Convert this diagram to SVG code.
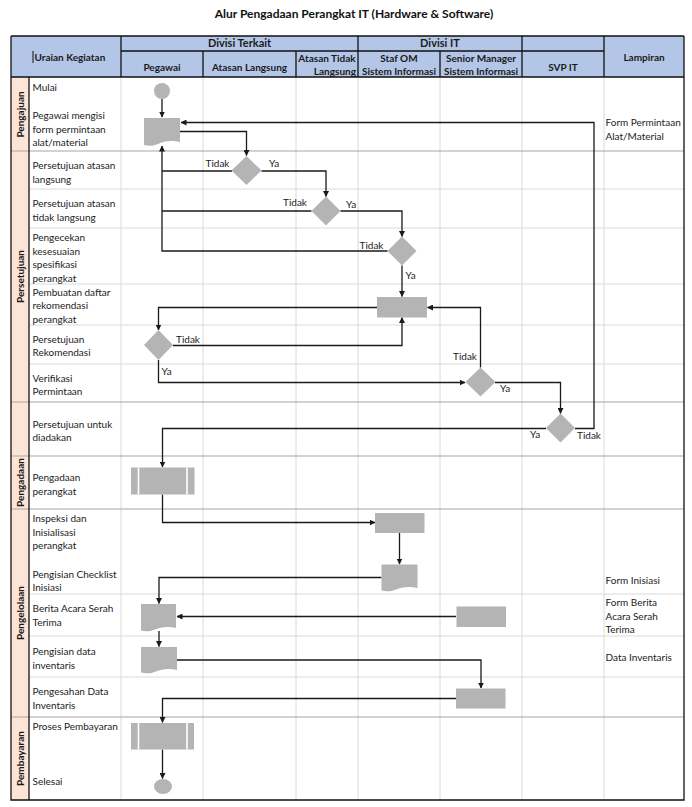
<svg xmlns="http://www.w3.org/2000/svg" width="692" height="807" viewBox="0 0 692 807">
<style>
text{font-family:Lato,"Liberation Sans",sans-serif;fill:#222}
.t{font-size:10px}
.h{font-size:10px;font-weight:bold;text-anchor:middle;fill:#1a1a1a}
.h1{font-size:11px;font-weight:bold;text-anchor:middle;fill:#1a1a1a}
.ph{font-size:10px;font-weight:bold;text-anchor:middle;fill:#1a1a1a}
.lb{font-size:10px}
.g{stroke:#dadada;stroke-width:1;fill:none}
.pb{stroke:#a6a6a6;stroke-width:1.2;fill:none}
.bk{stroke:#111;stroke-width:1.3;fill:none}
.shape{fill:#b4b4b4}
.c{fill:none;stroke:#1a1a1a;stroke-width:1.3;marker-end:url(#ah)}
.cn{fill:none;stroke:#1a1a1a;stroke-width:1.3}
</style>
<defs>
<marker id="ah" markerWidth="6" markerHeight="6" refX="5.5" refY="3" orient="auto" markerUnits="userSpaceOnUse">
<path d="M0,0 L6,3 L0,6 z" fill="#1a1a1a"/>
</marker>
</defs>
<rect width="692" height="807" fill="#fff"/>
<text x="354" y="18" style="font-size:12px;font-weight:bold;text-anchor:middle;fill:#111">Alur Pengadaan Perangkat IT (Hardware &amp; Software)</text>

<g id="table">
<rect x="11" y="36" width="673" height="41" fill="#b4c6e7"/>
<rect x="11" y="77" width="18" height="723" fill="#fce4d6"/>
<path class="g" d="M121,77V800M203,77V800M296,77V800M358,77V800M440,77V800M522,77V800M604,77V800"/>
<path class="g" d="M29,189H684M29,228H684M29,284H684M29,325H684M29,364H684M29,594H684M29,636H684M29,677H684"/>
<path class="pb" d="M11,151H684M11,402H684M11,456H684M11,509H684M11,717H684"/>
<path class="bk" d="M11,36H684M121,51H604M11,77H684M121,36V77M358,36V77M522,36V77M604,36V77M203,51V77M296,51V77M440,51V77"/>
<path class="bk" d="M11,36V800H684V36M29,77V800"/>
<line x1="33" y1="51" x2="33" y2="63" stroke="#111" stroke-width="1"/>
<text class="h" x="34.5" y="61" style="text-anchor:start">Uraian Kegiatan</text>
<text class="h1" x="239.5" y="47">Divisi Terkait</text>
<text class="h1" x="440" y="47">Divisi IT</text>
<text class="h" x="162" y="71">Pegawai</text>
<text class="h" x="249.5" y="71">Atasan Langsung</text>
<text class="h" x="327" y="62">Atasan Tidak</text>
<text class="h" x="356" y="75" style="text-anchor:end">Langsung</text>
<text class="h" x="399" y="62">Staf OM</text>
<text class="h" x="399" y="75">Sistem Informasi</text>
<text class="h" x="481" y="62">Senior Manager</text>
<text class="h" x="481" y="75">Sistem Informasi</text>
<text class="h" x="563" y="71">SVP IT</text>
<text class="h" x="644" y="61">Lampiran</text>
<text class="ph" transform="translate(24,114.5) rotate(-90)">Pengajuan</text>
<text class="ph" transform="translate(24,276.5) rotate(-90)">Persetujuan</text>
<text class="ph" transform="translate(24,482.5) rotate(-90)">Pengadaan</text>
<text class="ph" transform="translate(24,613) rotate(-90)">Pengelolaan</text>
<text class="ph" transform="translate(24,758.5) rotate(-90)">Pembayaran</text>
<g class="t">
<text class="t" x="32.5" y="91">Mulai</text>
<text class="t" x="32.5" y="119">Pegawai mengisi</text>
<text class="t" x="32.5" y="132.5">form permintaan</text>
<text class="t" x="32.5" y="146">alat/material</text>
<text class="t" x="32.5" y="168.5">Persetujuan atasan</text>
<text class="t" x="32.5" y="182.5">langsung</text>
<text class="t" x="32.5" y="207">Persetujuan atasan</text>
<text class="t" x="32.5" y="220.5">tidak langsung</text>
<text class="t" x="32.5" y="241">Pengecekan</text>
<text class="t" x="32.5" y="254.5">kesesuaian</text>
<text class="t" x="32.5" y="268">spesifikasi</text>
<text class="t" x="32.5" y="281.5">perangkat</text>
<text class="t" x="32.5" y="295.5">Pembuatan daftar</text>
<text class="t" x="32.5" y="309">rekomendasi</text>
<text class="t" x="32.5" y="322.5">perangkat</text>
<text class="t" x="32.5" y="342.5">Persetujuan</text>
<text class="t" x="32.5" y="356">Rekomendasi</text>
<text class="t" x="32.5" y="381.5">Verifikasi</text>
<text class="t" x="32.5" y="395">Permintaan</text>
<text class="t" x="32.5" y="427.5">Persetujuan untuk</text>
<text class="t" x="32.5" y="441">diadakan</text>
<text class="t" x="32.5" y="480.5">Pengadaan</text>
<text class="t" x="32.5" y="494.5">perangkat</text>
<text class="t" x="32.5" y="522">Inspeksi dan</text>
<text class="t" x="32.5" y="535.5">Inisialisasi</text>
<text class="t" x="32.5" y="549">perangkat</text>
<text class="t" x="32.5" y="577.5">Pengisian Checklist</text>
<text class="t" x="32.5" y="591">Inisiasi</text>
<text class="t" x="32.5" y="612">Berita Acara Serah</text>
<text class="t" x="32.5" y="625.5">Terima</text>
<text class="t" x="32.5" y="655">Pengisian data</text>
<text class="t" x="32.5" y="668.5">inventaris</text>
<text class="t" x="32.5" y="695">Pengesahan Data</text>
<text class="t" x="32.5" y="709">Inventaris</text>
<text class="t" x="32.5" y="729.5">Proses Pembayaran</text>
<text class="t" x="32.5" y="785">Selesai</text>
<text class="t" x="605.5" y="126">Form Permintaan</text>
<text class="t" x="605.5" y="140">Alat/Material</text>
<text class="t" x="605.5" y="584">Form Inisiasi</text>
<text class="t" x="605.5" y="606">Form Berita</text>
<text class="t" x="605.5" y="619.5">Acara Serah</text>
<text class="t" x="605.5" y="633">Terima</text>
<text class="t" x="605.5" y="661">Data Inventaris</text>
</g>
</g>

<g id="connectors">
<path class="c" d="M162,99V117"/>
<path class="c" d="M575,428.5H594V122.5H181"/>
<path class="c" d="M180,131.5H246.5V155.5"/>
<path class="cn" d="M232,171H162M311.5,211H162"/>
<path class="c" d="M387.5,251H162V146"/>
<path class="c" d="M261.5,171H326V196.5"/>
<path class="c" d="M340.5,211H402V236.5"/>
<path class="c" d="M402,265.5V296.5"/>
<path class="c" d="M377,307.5H158.5V330"/>
<path class="c" d="M173,345.5H402V317.5"/>
<path class="c" d="M158.5,360V382.5H465"/>
<path class="c" d="M480.5,367.5V307.5H427.5"/>
<path class="c" d="M495,382.5H560.5V413.5"/>
<path class="c" d="M546,428.5H162.5V467"/>
<path class="c" d="M162.5,494.5V522.5H375"/>
<path class="c" d="M399.5,533V564"/>
<path class="c" d="M381.5,577.5H159V603.5"/>
<path class="c" d="M456,616.5H177"/>
<path class="c" d="M159,631V646.5"/>
<path class="c" d="M177,660H481V688"/>
<path class="c" d="M456,698.5H162.5V722.5"/>
<path class="c" d="M162.5,749.5V778.5"/>
<text class="lb" x="205.5" y="166.5">Tidak</text>
<text class="lb" x="269" y="166.5">Ya</text>
<text class="lb" x="283" y="206">Tidak</text>
<text class="lb" x="346" y="208">Ya</text>
<text class="lb" x="359.5" y="249">Tidak</text>
<text class="lb" x="405.5" y="278.5">Ya</text>
<text class="lb" x="176" y="342.5">Tidak</text>
<text class="lb" x="161.5" y="375">Ya</text>
<text class="lb" x="453" y="359.5">Tidak</text>
<text class="lb" x="500" y="392">Ya</text>
<text class="lb" x="530" y="438">Ya</text>
<text class="lb" x="577" y="439">Tidak</text>
</g>

<g id="start"><circle class="shape" cx="162" cy="91" r="8"/></g>
<g id="form-permintaan"><path class="shape" d="M144,118H180V142C170,140 164,141 158,144C152,146.5 148,146 144,145Z"/></g>
<g id="d-atasan-langsung"><path class="shape" d="M246.5,156L261.5,170.5L246.5,185L231.5,170.5Z"/></g>
<g id="d-atasan-tidak-langsung"><path class="shape" d="M326,196.5L340.5,211L326,225.5L311.5,211Z"/></g>
<g id="d-pengecekan"><path class="shape" d="M402,236.5L416.5,251L402,265.5L387.5,251Z"/></g>
<g id="p-rekomendasi"><rect class="shape" x="377" y="297" width="50" height="20.5"/></g>
<g id="d-persetujuan-rekomendasi"><path class="shape" d="M158.5,330L173,345L158.5,360L144,345Z"/></g>
<g id="d-verifikasi"><path class="shape" d="M480.5,367.5L495.5,382L480.5,396.5L465.5,382Z"/></g>
<g id="d-svp"><path class="shape" d="M560.5,413.5L575,428L560.5,442.5L546,428Z"/></g>
<g id="pp-pengadaan"><rect class="shape" x="131" y="467.5" width="63.5" height="27"/><path d="M138.5,467.5V494.5M187,467.5V494.5" stroke="#fff" stroke-width="1.6"/></g>
<g id="p-inspeksi"><rect class="shape" x="375" y="513" width="49.5" height="20"/></g>
<g id="doc-checklist"><path class="shape" d="M381.5,564.5H417.5V588C408,586 402,587 396,589.5C390,592 386,591.5 381.5,590.5Z"/></g>
<g id="doc-berita"><path class="shape" d="M141,604H176V628C167,626 161,627 155,629.5C149,632 145,631.5 141,630.5Z"/></g>
<g id="p-serah"><rect class="shape" x="456.5" y="606.5" width="49.5" height="20.5"/></g>
<g id="doc-inventaris"><path class="shape" d="M141,647H177V670C168,668 162,669 156,671.5C150,674 146,673.5 141,672.5Z"/></g>
<g id="p-pengesahan"><rect class="shape" x="456" y="688.5" width="49.5" height="20"/></g>
<g id="pp-pembayaran"><rect class="shape" x="131" y="723" width="63" height="26.5"/><path d="M138.5,723V749.5M187,723V749.5" stroke="#fff" stroke-width="1.6"/></g>
<g id="end"><ellipse class="shape" cx="163" cy="786.5" rx="9" ry="7.5"/></g>
</svg>
